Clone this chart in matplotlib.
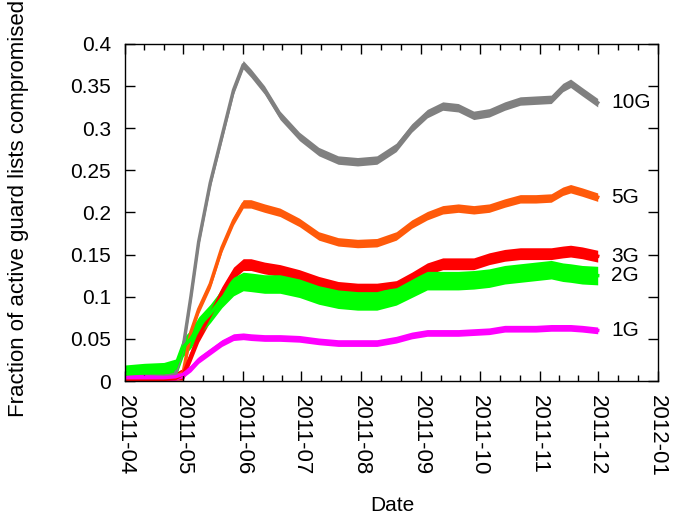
import pandas as pd
import matplotlib.pyplot as plt
import matplotlib.dates as mdates

plt.rcParams['font.family'] = ['Liberation Sans', 'DejaVu Sans']

# sample dates
dates = pd.to_datetime([
    '2011-04-01', '2011-04-11', '2011-04-21', '2011-04-27', '2011-05-01',
    '2011-05-05', '2011-05-09', '2011-05-15', '2011-05-21', '2011-05-27',
    '2011-06-01', '2011-06-05', '2011-06-12', '2011-06-20', '2011-06-30',
    '2011-07-10', '2011-07-20', '2011-07-30', '2011-08-09', '2011-08-19',
    '2011-08-27', '2011-09-04', '2011-09-12', '2011-09-20', '2011-09-28',
    '2011-10-06', '2011-10-14', '2011-10-22', '2011-10-30', '2011-11-07',
    '2011-11-13', '2011-11-17', '2011-11-23', '2011-12-01'])

g10 = [0.004, 0.004, 0.005, 0.008, 0.040, 0.100, 0.165, 0.235, 0.290, 0.345,
       0.375, 0.365, 0.345, 0.315, 0.290, 0.272, 0.262, 0.260, 0.262, 0.277,
       0.300, 0.317, 0.326, 0.324, 0.315, 0.318, 0.326, 0.332, 0.333, 0.334,
       0.348, 0.353, 0.343, 0.330]
g5 = [0.003, 0.003, 0.003, 0.004, 0.010, 0.058, 0.085, 0.115, 0.158, 0.190,
      0.210, 0.210, 0.205, 0.200, 0.188, 0.172, 0.165, 0.163, 0.164, 0.172,
      0.186, 0.196, 0.203, 0.205, 0.203, 0.205, 0.211, 0.216, 0.216, 0.217,
      0.225, 0.228, 0.224, 0.218]
g3 = [0.002, 0.002, 0.002, 0.003, 0.008, 0.030, 0.053, 0.078, 0.105, 0.128,
      0.138, 0.138, 0.134, 0.131, 0.125, 0.117, 0.111, 0.109, 0.109, 0.112,
      0.122, 0.133, 0.139, 0.139, 0.139, 0.145, 0.149, 0.151, 0.151, 0.151,
      0.153, 0.154, 0.152, 0.148]
g2 = [0.008, 0.010, 0.011, 0.015, 0.040, 0.050, 0.065, 0.080, 0.098, 0.112,
      0.118, 0.117, 0.115, 0.115, 0.110, 0.102, 0.097, 0.095, 0.095, 0.101,
      0.110, 0.119, 0.119, 0.119, 0.120, 0.122, 0.126, 0.128, 0.130, 0.132,
      0.129, 0.128, 0.126, 0.125]
g1 = [0.004, 0.004, 0.004, 0.005, 0.008, 0.015, 0.025, 0.035, 0.045, 0.052,
      0.053, 0.052, 0.051, 0.051, 0.050, 0.047, 0.045, 0.045, 0.045, 0.049,
      0.054, 0.057, 0.057, 0.057, 0.058, 0.059, 0.062, 0.062, 0.062, 0.063,
      0.063, 0.063, 0.062, 0.060]

names = ['10G', '5G', '3G', '2G', '1G']
series = [g10, g5, g3, g2, g1]
spread = [0.005, 0.005, 0.007, 0.011, 0.004]
colors = ['#808080', '#ff5a0a', '#ff0000', '#00ff00', '#ff00ff']

fig = plt.figure(figsize=(6.76, 5.23), dpi=100)
ax = fig.add_axes([0.185, 0.2715, 0.788, 0.645])

for name, vals, sp, c in zip(names, series, spread, colors):
    s = pd.Series(vals, index=dates)
    ax.fill_between(s.index, (s - sp).clip(lower=0.001), s + sp, color=c, lw=0)
    ax.plot(s.index, s.values, color=c, lw=2.5)
    ax.text(pd.Timestamp('2011-12-08'), vals[-1], name, fontsize=15,
            va='center', ha='left')

ax.set_xlim(pd.Timestamp('2011-04-01'), pd.Timestamp('2012-01-01'))
ax.set_ylim(0, 0.4)

months = pd.date_range('2011-04-01', '2012-01-01', freq='MS')
mnum = mdates.date2num(months)
minor = []
for a, b in zip(mnum[:-1], mnum[1:]):
    minor += [a + (b - a) / 3, a + 2 * (b - a) / 3]
ax.set_xticks(months)
ax.set_xticklabels([m.strftime('%Y-%m') for m in months], rotation=-90,
                   ha='center', va='top', fontsize=16)
ax.set_xticks(minor, minor=True)
ax.set_yticks([i * 0.05 for i in range(9)])
ax.set_yticklabels(['0', '0.05', '0.1', '0.15', '0.2', '0.25', '0.3', '0.35', '0.4'],
                   fontsize=15)

ax.tick_params(which='both', direction='in', top=True, right=True, width=1)
ax.tick_params(which='major', length=7)
ax.tick_params(axis='y', which='major', pad=10)
ax.tick_params(axis='x', which='major', pad=10)
ax.tick_params(which='minor', length=4)
for sp_ in ax.spines.values():
    sp_.set_linewidth(1)

fig.text(0.028, 0.602, 'Fraction of active guard lists compromised',
         rotation=90, ha='center', va='center', fontsize=16)
fig.text(0.581, 0.033, 'Date', ha='center', va='center', fontsize=15)

fig.savefig('out.png', dpi=100)
